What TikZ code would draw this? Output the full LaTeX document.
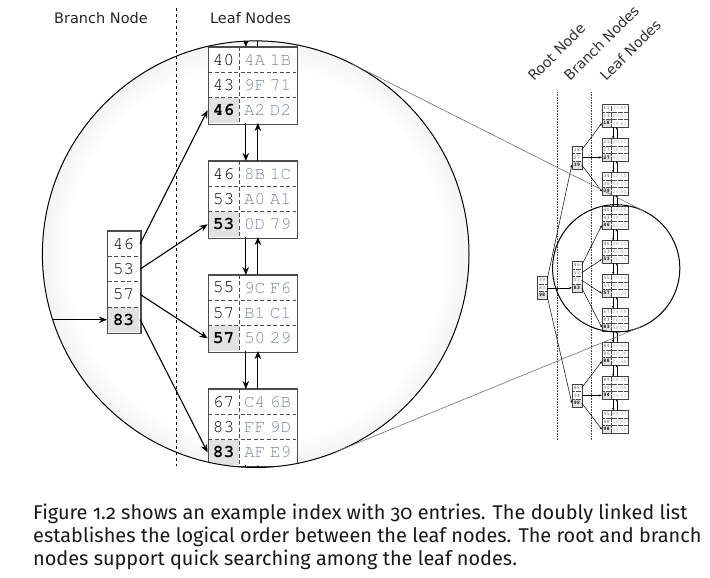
\documentclass[tikz,border=0pt]{standalone}
\usepackage[T1,TU]{fontenc}
\usepackage{fontspec}
\usetikzlibrary{arrows.meta}
\newfontfamily\labelfont{DejaVu Sans}
\newfontfamily\capfont[Numbers=OldStyle]{Fira Sans}
\newcommand\keyfont{\fontencoding{T1}\fontfamily{pcr}\fontseries{m}\fontsize{5.3}{6}\selectfont}
\newcommand\boldkeyfont{\fontencoding{T1}\fontfamily{pcr}\fontseries{b}\fontsize{5.3}{6}\selectfont}
\newcommand\datafont{\keyfont\spaceskip=0.25em\relax}
\definecolor{datagray}{RGB}{128,138,152}
\definecolor{keygray}{RGB}{226,226,226}
\pgfdeclareradialshading{lens}{\pgfpoint{0bp}{0bp}}{color(0bp)=(white); color(22bp)=(white); color(26bp)=(black!6); color(30bp)=(black!20); color(35bp)=(black!24); color(50bp)=(black!24)}
\tikzset{
  boxfill/.style={fill=white, draw=none, inner sep=0pt, anchor=north west},
  keycell/.style={inner sep=0pt, minimum width=9.25pt, minimum height=7.55pt, font=\keyfont, text=black},
  datacell/.style={inner sep=0pt, minimum width=17pt, minimum height=7.55pt, font=\datafont, text=datagray},
  lastkey/.style={keycell, fill=keygray, font=\boldkeyfont},
  bkeycell/.style={keycell, minimum width=9.5pt},
  blastkey/.style={lastkey, minimum width=9.5pt},
  bigview/.style={transform shape,
    boxline/.style={draw=black!70, line width=1.4pt},
    sepline/.style={draw=black!70, line width=0.75pt, dash pattern=on 4pt off 2.5pt},
    conn/.style={draw=black, line width=1.1pt, -{Stealth[length=8pt,width=6.5pt,inset=2.5pt]}}},
  smallview/.style={
    boxline/.style={draw=black!75, line width=0.7pt},
    sepline/.style={draw=black!70, line width=0.35pt, dash pattern=on 0.6pt off 0.6pt},
    conn/.style={draw=black, line width=0.5pt, -{Stealth[length=2.5pt,width=2.2pt,inset=0.8pt]}}},
  toplabel/.style={font=\labelfont\fontsize{14.5}{16}\selectfont, text=black!85, inner sep=0pt, anchor=base},
  rotlabel/.style={font=\labelfont\fontsize{14.2}{16}\selectfont, text=black!80, inner sep=0pt, rotate=45, anchor=base west},
  capstyle/.style={font=\capfont\fontsize{19.9}{23.3}\selectfont, text=black!90, inner sep=0pt, align=left, anchor=north west},
  lensline/.style={draw=black, line width=1pt},
  tanline/.style={draw=black!55, line width=0.6pt},
  levelline/.style={draw=black!70, line width=0.6pt, dash pattern=on 0.8pt off 0.8pt},
  splitline/.style={draw=black, line width=0.9pt, dash pattern=on 3pt off 3pt}
}
% leaf: name, x, y(top), k1, d1, k2, d2, k3, d3
\newcommand\leafbox[9]{%
  \node[boxfill, minimum width=26.25pt, minimum height=22.65pt] (#1) at (#2,#3) {};
  \node[keycell] (#1k1) at ({#2+4.625},{#3+3.775}) {#4};
  \node[datacell] (#1d1) at ({#2+17.75},{#3+3.775}) {#5};
  \node[keycell] (#1k2) at ({#2+4.625},{#3+11.325}) {#6};
  \node[datacell] (#1d2) at ({#2+17.75},{#3+11.325}) {#7};
  \node[lastkey] (#1k3) at ({#2+4.625},{#3+18.875}) {#8};
  \node[datacell] (#1d3) at ({#2+17.75},{#3+18.875}) {#9};
  \draw[sepline] ({#2},{#3+7.55}) -- ({#2+26.25},{#3+7.55});
  \draw[sepline] ({#2},{#3+15.1}) -- ({#2+26.25},{#3+15.1});
  \draw[sepline] ({#2+9.25},{#3}) -- ({#2+9.25},{#3+22.65});
  \draw[boxline] (#1.north west) rectangle (#1.south east);
  \coordinate (#1dnS) at ({#2+11.2},{#3+22.65});
  \coordinate (#1dnE) at ({#2+11.2},{#3});
  \coordinate (#1upS) at ({#2+14.8},{#3});
  \coordinate (#1upE) at ({#2+14.8},{#3+22.65});
}
\newcommand\branchthree[6]{%
  \node[boxfill, minimum width=9.5pt, minimum height=22.65pt] (#1) at (#2,#3) {};
  \node[bkeycell] (#1k1) at ({#2+4.75},{#3+3.775}) {#4};
  \node[bkeycell] (#1k2) at ({#2+4.75},{#3+11.325}) {#5};
  \node[blastkey] (#1k3) at ({#2+4.75},{#3+18.875}) {#6};
  \draw[sepline] ({#2},{#3+7.55}) -- ({#2+9.5},{#3+7.55});
  \draw[sepline] ({#2},{#3+15.1}) -- ({#2+9.5},{#3+15.1});
  \draw[boxline] (#1.north west) rectangle (#1.south east);
}
\newcommand\branchfour[7]{%
  \node[boxfill, minimum width=9.5pt, minimum height=30.2pt] (#1) at (#2,#3) {};
  \node[bkeycell] (#1k1) at ({#2+4.75},{#3+3.775}) {#4};
  \node[bkeycell] (#1k2) at ({#2+4.75},{#3+11.325}) {#5};
  \node[bkeycell] (#1k3) at ({#2+4.75},{#3+18.875}) {#6};
  \node[blastkey] (#1k4) at ({#2+4.75},{#3+26.425}) {#7};
  \draw[sepline] ({#2},{#3+7.55}) -- ({#2+9.5},{#3+7.55});
  \draw[sepline] ({#2},{#3+15.1}) -- ({#2+9.5},{#3+15.1});
  \draw[sepline] ({#2},{#3+22.65}) -- ({#2+9.5},{#3+22.65});
  \draw[boxline] (#1.north west) rectangle (#1.south east);
}
% the middle part of the tree (shown in both views)
\newcommand\drawmid[1]{%
  \leafbox{#1L4}{602}{206.5}{40}{4A 1B}{43}{9F 71}{46}{A2 D2}
  \leafbox{#1L5}{602}{240.5}{46}{8B 1C}{53}{A0 A1}{53}{0D 79}
  \leafbox{#1L6}{602}{274.5}{55}{9C F6}{57}{B1 C1}{57}{50 29}
  \leafbox{#1L7}{602}{308.5}{67}{C4 6B}{83}{FF 9D}{83}{AF E9}
  \branchfour{#1B2}{572}{261.4}{46}{53}{57}{83}
  \draw[conn] (#1B2k1.east) -- (#1L4k3.west);
  \draw[conn] (#1B2k2.east) -- (#1L5k3.west);
  \draw[conn] (#1B2k3.east) -- (#1L6k3.west);
  \draw[conn] (#1B2k4.east) -- (#1L7k3.west);
  \foreach \ua/\ub in {4/5,5/6,6/7}{%
    \draw[conn] (#1L\ua dnS) -- (#1L\ub dnE);
    \draw[conn] (#1L\ub upS) -- (#1L\ua upE);
  }
}
\begin{document}
\begin{tikzpicture}[x=1pt,y=-1pt]
  \useasboundingbox (0,0) rectangle (710,578);
  \fill[white] (0,0) rectangle (710,578);
  % big lens
  \coordinate (bigc) at (255.7,254.2);
  \coordinate (smallc) at (616.2,268.3);
  \shade[shading=lens] (bigc) circle[radius=213.3pt];
  \begin{scope}
    \clip (bigc) circle[radius=213.3pt];
    \begin{scope}[scale around={3.353:(769.4,274.3)}, bigview]
      \drawmid{b}
      % connectors that leave the lens
      \coordinate (bRk2) at (546.8,287.825);
      \coordinate (bL3dnS) at (613.2,195.15);
      \coordinate (bL3upE) at (616.8,195.15);
      \coordinate (bL8dnE) at (613.2,342.5);
      \coordinate (bL8upS) at (616.8,342.5);
      \draw[conn] (bRk2) -- (bB2k4.west);
      \draw[conn] (bL3dnS) -- (bL4dnE);
      \draw[conn] (bL4upS) -- (bL3upE);
      \draw[conn] (bL7dnS) -- (bL8dnE);
      \draw[conn] (bL8upS) -- (bL7upE);
    \end{scope}
  \end{scope}
  \draw[lensline] (bigc) circle[radius=213.3pt];
  % separator in the big view
  \coordinate (splitT) at (176.5,8);
  \coordinate (splitB) at (176.5,466);
  \draw[splitline] (splitT) -- (splitB);
  % level separators in the small view
  \coordinate (lvA1) at (557.7,92);
  \coordinate (lvA2) at (557.7,440);
  \coordinate (lvB1) at (591.7,92);
  \coordinate (lvB2) at (591.7,440);
  \draw[levelline] (lvA1) -- (lvA2);
  \draw[levelline] (lvB1) -- (lvB2);
  % small tree
  \begin{scope}[smallview]
    \leafbox{sL1}{602}{104.5}{11}{3C AF}{13}{F3 91}{18}{6F B2}
    \leafbox{sL2}{602}{138.5}{21}{2C 50}{27}{0F 1B}{27}{52 55}
    \leafbox{sL3}{602}{172.5}{34}{0D 1E}{35}{44 53}{39}{24 5D}
    \drawmid{s}
    \leafbox{sL8}{602}{342.5}{84}{80 64}{86}{4C 2F}{88}{06 5B}
    \leafbox{sL9}{602}{376.5}{89}{6A 3E}{90}{7D 9A}{94}{36 D5}
    \leafbox{sL10}{602}{410.5}{95}{EA 37}{98}{5E B2}{98}{D8 4F}
    \branchthree{sB1}{572}{146.05}{18}{27}{39}
    \branchthree{sB3}{572}{384.05}{88}{94}{98}
    \branchthree{sR}{537.3}{276.5}{39}{83}{98}
    \draw[conn] (sRk1.east) -- (sB1k3.west);
    \draw[conn] (sRk2.east) -- (sB2k4.west);
    \draw[conn] (sRk3.east) -- (sB3k3.west);
    \draw[conn] (sB1k1.east) -- (sL1k3.west);
    \draw[conn] (sB1k2.east) -- (sL2k3.west);
    \draw[conn] (sB1k3.east) -- (sL3k3.west);
    \draw[conn] (sB3k1.east) -- (sL8k3.west);
    \draw[conn] (sB3k2.east) -- (sL9k3.west);
    \draw[conn] (sB3k3.east) -- (sL10k3.west);
    \foreach \ua/\ub in {1/2,2/3,3/4,7/8,8/9,9/10}{%
      \draw[conn] (sL\ua dnS) -- (sL\ub dnE);
      \draw[conn] (sL\ub upS) -- (sL\ua upE);
    }
  \end{scope}
  \draw[lensline] (smallc) circle[radius=63.6pt];
  % tangent lines
  \coordinate (tu1) at (351.7,63.7);
  \coordinate (tu2) at (644.8,211.5);
  \coordinate (tl1) at (336.5,451.6);
  \coordinate (tl2) at (640.3,327.1);
  \draw[tanline] (tu1) -- (tu2);
  \draw[tanline] (tl1) -- (tl2);
  % labels
  \node[toplabel] (lbBranch) at (101,24) {Branch Node};
  \node[toplabel] (lbLeaf) at (250.5,24) {Leaf Nodes};
  \node[rotlabel] (lbRoot2) at (534,82) {Root Node};
  \node[rotlabel] (lbBranch2) at (570,82) {Branch Nodes};
  \node[rotlabel] (lbLeaf2) at (606,82) {Leaf Nodes};
  % caption
  \node[capstyle] (caption) at (33,503.5) {Figure 1.2 shows an example index with 30 entries. The doubly linked list\\
    establishes the logical order between the leaf nodes. The root and branch\\
    nodes support quick searching among the leaf nodes.};
\end{tikzpicture}
\end{document}
